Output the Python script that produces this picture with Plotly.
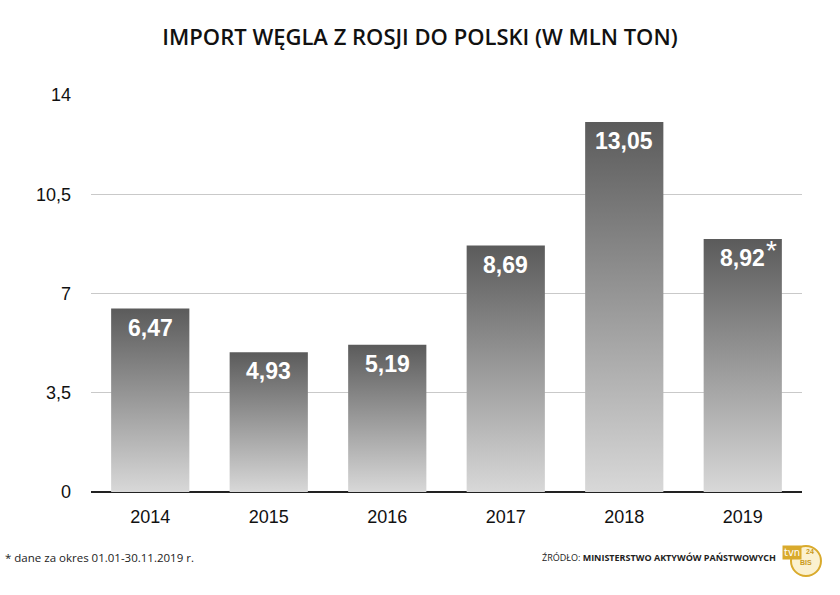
import plotly.graph_objects as go

# data
years = ["2014", "2015", "2016", "2017", "2018", "2019"]
values = [6.47, 4.93, 5.19, 8.69, 13.05, 8.92]
labels = ["6,47", "4,93", "5,19", "8,69", "13,05", "8,92"]
notes = ["", "", "", "", "", "*"]
ytick_vals = [0, 3.5, 7, 10.5, 14]
ytick_text = ["0", "3,5", "7", "10,5", "14"]

bar_width = 0.66
grad = [[0, "#d8d8d8"], [1, "#5b5b5b"]]

fig = go.Figure()

# bars drawn as filled polygons so each one gets its own vertical gradient
for i, (yr, v) in enumerate(zip(years, values)):
    x0, x1 = i - bar_width / 2, i + bar_width / 2
    fig.add_trace(go.Scatter(
        x=[x0, x0, x1, x1, x0],
        y=[0, v, v, 0, 0],
        mode="lines",
        fill="toself",
        fillgradient=dict(type="vertical", colorscale=grad),
        line=dict(width=0, color="#777"),
        hoverinfo="text",
        hovertext=f"{yr}: {labels[i]}",
        showlegend=False,
    ))
    fig.add_annotation(
        x=i, y=v, text=labels[i], showarrow=False,
        yanchor="top", yshift=-4,
        font=dict(family="Liberation Sans, Arial", size=23, color="white", weight="bold"),
    )
    if notes[i]:
        fig.add_annotation(
            x=i, y=v, text=notes[i], showarrow=False,
            xanchor="left", yanchor="top", xshift=21, yshift=6,
            font=dict(family="Liberation Sans, Arial", size=28, color="white"),
        )

fig.update_layout(
    width=840, height=595,
    margin=dict(l=91, r=38, t=95, b=103),
    paper_bgcolor="white",
    plot_bgcolor="white",
    title=dict(
        text="IMPORT WĘGLA Z ROSJI DO POLSKI (W MLN TON)",
        x=0.5, xanchor="center", y=0.937, yanchor="middle",
        font=dict(family="Open Sans", size=22, color="#111", weight=600),
    ),
    xaxis=dict(
        range=[-0.5, 5.5],
        tickmode="array",
        tickvals=list(range(len(years))),
        ticktext=years,
        showgrid=False,
        zeroline=False,
        showline=False,
        ticks="",
        ticklabelstandoff=12,
        tickfont=dict(family="Liberation Sans, Arial", size=18, color="#111"),
        fixedrange=True,
    ),
    yaxis=dict(
        range=[0, 14],
        tickmode="array",
        tickvals=ytick_vals,
        ticktext=ytick_text,
        showgrid=True,
        gridcolor="#c9c9c9",
        gridwidth=1,
        zeroline=True,
        zerolinecolor="#222",
        zerolinewidth=1.5,
        showline=False,
        ticks="",
        ticklabelstandoff=19,
        tickfont=dict(family="Liberation Sans, Arial", size=18, color="#111"),
        fixedrange=True,
    ),
)

# footer
fig.add_annotation(
    x=-0.124, y=-0.166, xref="paper", yref="paper", xanchor="left", yanchor="middle",
    text="* dane za okres 01.01-30.11.2019 r.", showarrow=False,
    font=dict(family="Open Sans", size=11.5, color="#222"),
)
fig.add_annotation(
    x=0.966, y=-0.166, xref="paper", yref="paper", xanchor="right", yanchor="middle",
    text="ŹRÓDŁO: <b>MINISTERSTWO AKTYWÓW PAŃSTWOWYCH</b>", showarrow=False,
    font=dict(family="Open Sans", size=9, color="#222"),
)

# tvn24 bis badge (rough)
logo_x, logo_y = 1.0056, -0.1738
fig.add_shape(
    type="circle", xref="paper", yref="paper",
    xsizemode="pixel", ysizemode="pixel",
    xanchor=logo_x, yanchor=logo_y,
    x0=-15, x1=15, y0=-15, y1=15,
    fillcolor="#fbf1cf", line=dict(color="#d9aa2c", width=2),
)
fig.add_annotation(
    x=logo_x, y=logo_y, xref="paper", yref="paper", showarrow=False,
    xshift=-4, yshift=1,
    text="tvn", bgcolor="#d9aa2c", borderpad=1,
    font=dict(family="DejaVu Sans", size=10, color="#ffffff"),
)
fig.add_annotation(
    x=logo_x, y=logo_y, xref="paper", yref="paper", showarrow=False,
    xshift=10, yshift=4,
    text="24", font=dict(family="Liberation Sans, Arial", size=7, color="#c99a20", weight="bold"),
)
fig.add_annotation(
    x=logo_x, y=logo_y, xref="paper", yref="paper", showarrow=False,
    xshift=8, yshift=-7,
    text="BIS", font=dict(family="Liberation Sans, Arial", size=7, color="#c99a20", weight="bold"),
)

# drop the default body margin so the figure sits at the page origin
fig.write_html(
    "out.html",
    config={"displayModeBar": False},
    post_script="document.body.style.margin='0';",
)
